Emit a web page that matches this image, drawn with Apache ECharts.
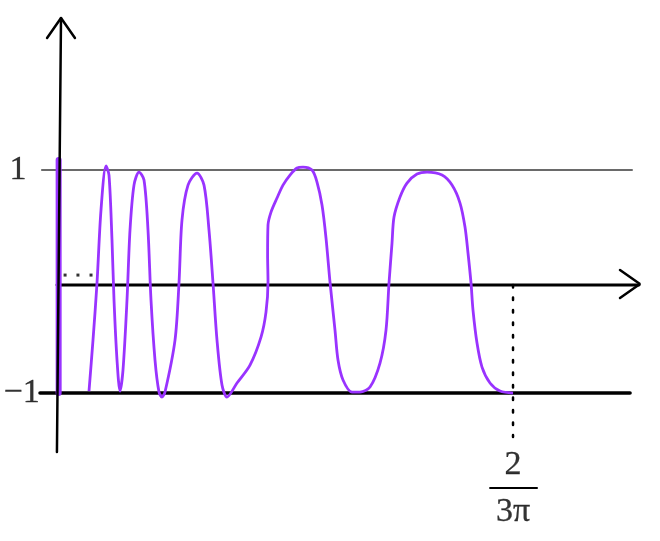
<!DOCTYPE html>
<html>
<head>
<meta charset="utf-8">
<script src="https://cdn.jsdelivr.net/npm/echarts@6/dist/echarts.min.js"></script>
<style>
  html, body { margin: 0; padding: 0; background: #fff; }
  #chart { width: 660px; height: 541px; }
</style>
</head>
<body>
<div id="chart"></div>
<script>
// sketch of y = sin(1/x) squeezed toward the y axis, ends at x = 2/(3π)
const xEnd = 2 / (3 * Math.PI);

const curveX = [0.01446,0.01632,0.01819,0.02005,0.02239,0.02378,0.02518,0.02612,0.02752,0.02891,
  0.03031,0.03218,0.03358,0.03544,0.03778,0.04011,0.04197,0.04337,0.04524,0.04710,
  0.04850,0.04990,0.05457,0.05643,0.05783,0.06063,0.06483,0.06809,0.07042,0.07229,
  0.07415,0.07648,0.07882,0.08348,0.08954,0.09467,0.09700,0.09794,0.09775,0.09794,
  0.09934,0.10213,0.10493,0.10820,0.11146,0.11426,0.11846,0.12079,0.12312,0.12499,
  0.12685,0.12918,0.13058,0.13292,0.13711,0.14084,0.14551,0.15017,0.15297,0.15437,
  0.15577,0.15670,0.15950,0.16276,0.16743,0.17209,0.17909,0.18375,0.18748,0.18981,
  0.19121,0.19261,0.19354,0.19541,0.19774,0.20147,0.20614,0.21221];
const curveY = [-0.982,-0.525,-0.013,0.641,1.036,0.955,0.372,-0.166,-0.704,-0.982,
  -0.794,-0.166,0.462,0.865,0.982,0.910,0.462,-0.166,-0.704,-0.991,
  -1.036,-0.991,-0.525,-0.013,0.552,0.865,0.973,0.865,0.462,-0.013,
  -0.525,-0.928,-1.036,-0.910,-0.749,-0.498,-0.274,-0.004,0.238,0.507,
  0.623,0.749,0.865,0.955,1.018,1.027,1.0,0.892,0.686,0.390,
  -0.004,-0.435,-0.704,-0.883,-0.991,-0.991,-0.946,-0.731,-0.435,-0.013,
  0.345,0.578,0.758,0.883,0.964,0.982,0.955,0.865,0.704,0.489,
  0.256,-0.013,-0.256,-0.552,-0.767,-0.910,-0.982,-1.0];

// the scribbled bar hugging the y axis
const barX = [0.0003, 0.0003];
const barY = [1.09, -1.0];

// hand drawn frame
const vAxisX = [-0.0005, 0.0014];
const vAxisY = [-1.529, 2.363];
const vArrowX = [-0.0051, 0.0014, 0.0079];
const vArrowY = [2.184, 2.363, 2.184];
const hAxisX = [-0.0005, 0.2710];
const hAxisY = [-0.031, -0.031];
const hArrowX = [0.2621, 0.2714, 0.2621];
const hArrowY = [0.103, -0.022, -0.148];
const oneLineX = [-0.0075, 0.2677];
const minusOneLineX = [-0.0084, 0.2668];
const dotsX = [0.0033, 0.0093, 0.0154];
const dotsY = [0.058, 0.058, 0.058];
const dropY = [-0.031, -1.395];
const fracBarX = [0.2015, 0.2234];
const fracBarY = [-1.852, -1.852];

const tickLabels = [
  { text: '1', x: -0.0187, y: 1 },
  { text: '\u22121', x: -0.0170, y: -1 },
  { text: '2', x: xEnd, y: -1.650 },
  { text: '3\u03c0', x: xEnd, y: -2.070 }
];

const zip = (xs, ys) => xs.map((x, i) => [x, ys[i]]);
const purple = '#9933ff';

function seg(data, color, width, type) {
  return {
    type: 'line', data: data, symbol: 'none', silent: true, z: 1,
    lineStyle: { color: color, width: width, type: type || 'solid', cap: 'round' }
  };
}

const chart = echarts.init(document.getElementById('chart'));
chart.setOption({
  animation: false,
  grid: { left: 0, right: 0, top: 0, bottom: 0 },
  xAxis: { type: 'value', min: -0.02705, max: 0.28075, show: false },
  yAxis: { type: 'value', min: -2.327, max: 2.525, show: false },
  series: [
    seg(zip(oneLineX, [1, 1]), '#6a6a6a', 2),
    seg(zip(minusOneLineX, [-1, -1]), '#000', 3.5),
    seg(zip(hAxisX, hAxisY), '#000', 2.8),
    seg(zip(hArrowX, hArrowY), '#000', 2.5),
    seg(zip(vArrowX, vArrowY), '#000', 2.5),
    seg(zip([xEnd, xEnd], dropY), '#000', 2.5, [2.5, 10]),
    seg(zip(fracBarX, fracBarY), '#000', 2),
    seg(zip(barX, barY), purple, 6),
    Object.assign(seg(zip(vAxisX, vAxisY), '#000', 2.5), { z: 2 }),
    {
      type: 'line', data: zip(curveX, curveY), symbol: 'none', smooth: 0.3, z: 3,
      lineStyle: { color: purple, width: 2.8 }
    },
    {
      type: 'scatter', data: zip(dotsX, dotsY), symbol: 'rect', symbolSize: 3,
      itemStyle: { color: '#000' }, silent: true
    },
    {
      type: 'scatter', symbolSize: 0, silent: true, z: 5,
      data: tickLabels.map(t => ({ value: [t.x, t.y], name: t.text })),
      label: {
        show: true, position: 'inside', formatter: p => p.name,
        fontFamily: 'Liberation Serif', fontSize: 34, color: '#000',
        textBorderColor: '#000', textBorderWidth: 0.3
      }
    }
  ]
});
</script>
</body>
</html>
